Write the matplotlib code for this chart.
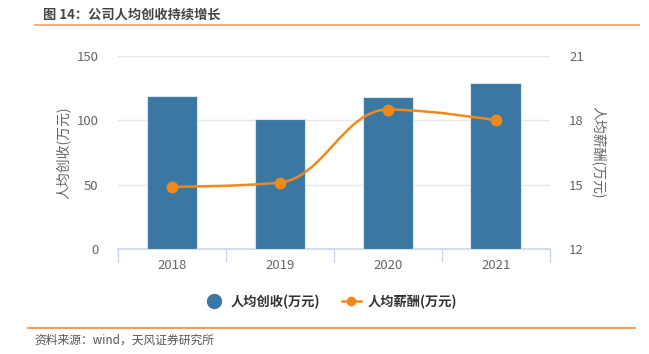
import matplotlib
matplotlib.use("Agg")
import matplotlib.pyplot as plt
from matplotlib.path import Path
from matplotlib.patches import PathPatch
from matplotlib.lines import Line2D
import numpy as np

plt.rcParams['font.family'] = ['Noto Sans CJK SC', 'DejaVu Sans']

years = ['2018', '2019', '2020', '2021']
revenue = [119, 101, 118, 129]      # 人均创收(万元)
salary = [14.9, 15.1, 18.5, 18.0]   # 人均薪酬(万元)

BLUE = '#3a78a3'
ORANGE = '#f0891a'
GRID = '#e6e6e6'
AXIS = '#ccd6eb'
TXT = '#666666'


def spline_path(xs, ys, smoothing=1.5):
    """Highcharts-like spline: bezier control points from neighbouring points."""
    n = len(xs)
    denom = smoothing + 1
    left, right = [None] * n, [None] * n
    for i in range(1, n - 1):
        x, y = xs[i], ys[i]
        lx, ly = xs[i - 1], ys[i - 1]
        nx, ny = xs[i + 1], ys[i + 1]
        lcx, lcy = (smoothing * x + lx) / denom, (smoothing * y + ly) / denom
        rcx, rcy = (smoothing * x + nx) / denom, (smoothing * y + ny) / denom
        corr = (rcy - lcy) * (rcx - x) / (rcx - lcx) + y - rcy
        lcy += corr
        rcy += corr
        if lcy > ly and lcy > y:
            lcy = max(ly, y); rcy = 2 * y - lcy
        elif lcy < ly and lcy < y:
            lcy = min(ly, y); rcy = 2 * y - lcy
        if rcy > ny and rcy > y:
            rcy = max(ny, y); lcy = 2 * y - rcy
        elif rcy < ny and rcy < y:
            rcy = min(ny, y); lcy = 2 * y - rcy
        left[i] = (lcx, lcy)
        right[i] = (rcx, rcy)
    verts = [(xs[0], ys[0])]
    codes = [Path.MOVETO]
    for i in range(1, n):
        c1 = right[i - 1] if right[i - 1] is not None else (xs[i - 1], ys[i - 1])
        c2 = left[i] if left[i] is not None else (xs[i], ys[i])
        verts += [c1, c2, (xs[i], ys[i])]
        codes += [Path.CURVE4] * 3
    return Path(verts, codes)


fig = plt.figure(figsize=(6.49, 3.54), dpi=100)
ax = fig.add_axes([0.182, 0.2966, 0.665, 0.5454])
ax2 = ax.twinx()

x = np.arange(len(years))
ax.bar(x, revenue, width=0.47, color=BLUE, edgecolor='#d8e4ef', linewidth=0.8, zorder=3)
ax.set_ylim(0, 150)
ax.set_yticks([0, 50, 100, 150])
ax.set_xlim(-0.5, len(years) - 0.5)
ax.set_xticks(x)
ax.set_xticklabels(years)
ax.set_xticks(np.arange(len(years) + 1) - 0.5, minor=True)
ax.tick_params(axis='x', which='major', length=0, pad=7, labelsize=9.5, colors=TXT)
ax.tick_params(axis='x', which='minor', length=9, width=1, color=AXIS)
ax.tick_params(axis='y', length=0, pad=14, labelsize=9.5, colors=TXT)
ax.grid(axis='y', color=GRID, linewidth=1, zorder=0)
for s in ['top', 'right', 'left']:
    ax.spines[s].set_visible(False)
ax.spines['bottom'].set_color(AXIS)
ax.spines['bottom'].set_linewidth(1.2)
ax.set_ylabel('人均创收(万元)', fontsize=10, color=TXT, labelpad=4)

ax2.set_ylim(12, 21)
ax2.set_yticks([12, 15, 18, 21])
ax2.tick_params(axis='y', length=0, pad=14, labelsize=9.5, colors=TXT)
for s in ['top', 'right', 'left', 'bottom']:
    ax2.spines[s].set_visible(False)
ax2.add_patch(PathPatch(spline_path(list(x), salary), facecolor='none',
                        edgecolor=ORANGE, linewidth=1.8, zorder=4))
ax2.plot(x, salary, linestyle='none', marker='o', markersize=7.5, color=ORANGE, zorder=5)
ax2.set_ylabel('人均薪酬(万元)', fontsize=10, color=TXT, rotation=-90, labelpad=16)

handles = [Line2D([], [], linestyle='none', marker='o', markersize=10, color=BLUE),
           Line2D([], [], color=ORANGE, linewidth=1.8, marker='o', markersize=6)]
fig.legend(handles, ['人均创收(万元)', '人均薪酬(万元)'], loc='center',
           bbox_to_anchor=(0.51, 0.148), ncol=2, frameon=False, handlelength=1.5,
           columnspacing=1.6, handletextpad=0.5,
           prop={'size': 9.5, 'weight': 'bold'}, labelcolor='#333333')

fig.text(0.066, 0.960, '图 14：公司人均创收持续增长', fontsize=9.5, fontweight='bold',
         color='#444444', va='center', ha='left')
fig.add_artist(Line2D([0.054, 0.985], [0.929, 0.929], color='#f0a060', linewidth=1.2))
fig.add_artist(Line2D([0.043, 0.978], [0.074, 0.074], color='#f08a30', linewidth=1.2))
fig.text(0.053, 0.038, '资料来源：wind，天风证券研究所', fontsize=8.5, color='#555555',
         va='center', ha='left')

fig.savefig('out.png', dpi=100)
